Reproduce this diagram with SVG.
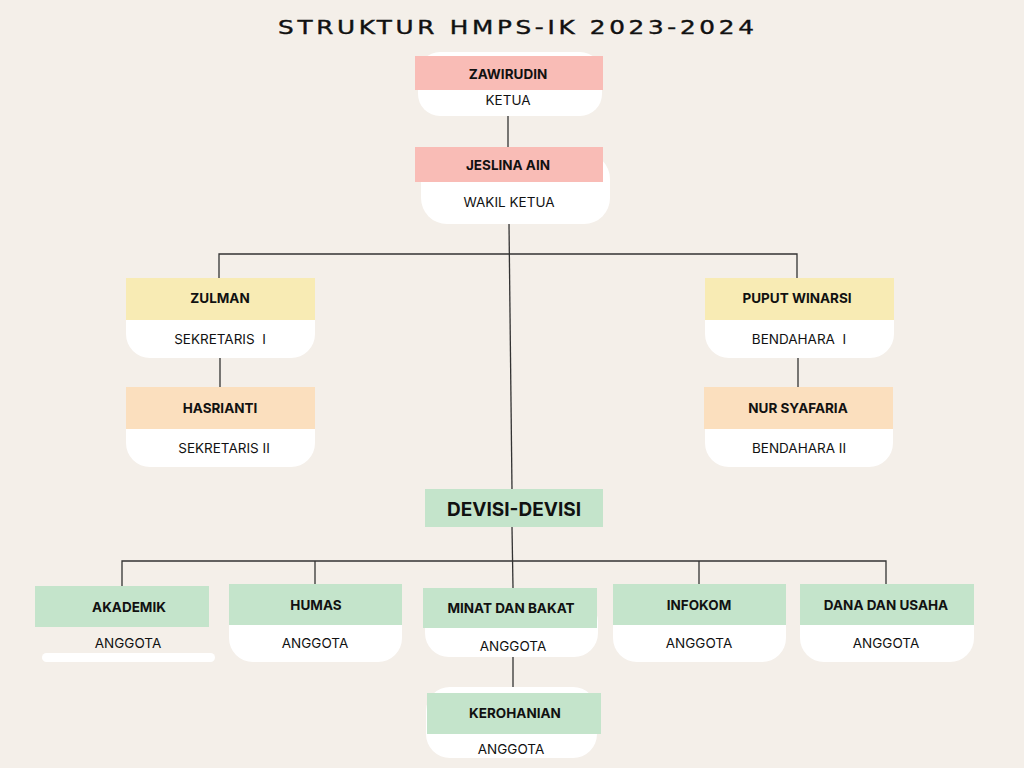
<svg xmlns="http://www.w3.org/2000/svg" width="1024" height="768" viewBox="0 0 1024 768">
<style>
.bg{fill:#f4efe9}
.card{fill:#ffffff}
.pink{fill:#f9bcb6}
.yel{fill:#f8ebb4}
.peach{fill:#fbdfbe}
.green{fill:#c4e4cb}
.name{font-family:Inter,"Noto Sans",sans-serif;font-weight:700;font-size:13.5px;fill:#111;text-anchor:middle}
.role{font-family:Inter,"Noto Sans",sans-serif;font-size:13.5px;fill:#111;text-anchor:middle;white-space:pre}
.title{font-family:"DejaVu Sans",sans-serif;font-size:19px;fill:#111;stroke:#111;stroke-width:0.4;text-anchor:middle}
.conn line,.conn polyline{stroke:#333;stroke-width:1.3;fill:none}
</style>
<rect class="bg" x="0" y="0" width="1024" height="768"/>
<text class="title" transform="scale(1.3,1)" x="396.9" y="34" textLength="366" lengthAdjust="spacing">STRUKTUR HMPS-IK 2023-2024</text>
<g class="conn" id="connectors">
<line x1="508" y1="116" x2="508" y2="148"/>
<line x1="509" y1="224" x2="512" y2="490"/>
<polyline points="219,278 219,254 797,254 797,278"/>
<line x1="220" y1="358" x2="220" y2="387"/>
<line x1="798" y1="358" x2="798" y2="387"/>
<line x1="512" y1="527" x2="513" y2="588"/>
<polyline points="122,586 122,561 886,561 886,584"/>
<line x1="315" y1="561" x2="315" y2="584"/>
<line x1="699" y1="561" x2="699" y2="584"/>
<line x1="513" y1="657" x2="513" y2="688"/>
</g>
<g id="zawirudin">
<rect class="card" x="418" y="52" width="184" height="64" rx="22"/>
<rect class="pink" x="415" y="56" width="188" height="34"/>
<text class="name" x="508" y="79">ZAWIRUDIN</text>
<text class="role" x="508" y="105">KETUA</text>
</g>
<g id="jeslina">
<rect class="card" x="421" y="153" width="189" height="71" rx="26"/>
<rect class="pink" x="415" y="147" width="188" height="35"/>
<text class="name" x="508" y="170">JESLINA AIN</text>
<text class="role" x="509" y="207">WAKIL KETUA</text>
</g>
<g id="zulman">
<rect class="card" x="126" y="290" width="189" height="68" rx="24"/>
<rect class="yel" x="126" y="278" width="189" height="42"/>
<text class="name" x="220" y="303">ZULMAN</text>
<text class="role" x="220" y="344" xml:space="preserve">SEKRETARIS  I</text>
</g>
<g id="hasrianti">
<rect class="card" x="126" y="399" width="189" height="68" rx="24"/>
<rect class="peach" x="126" y="387" width="189" height="42"/>
<text class="name" x="220" y="413">HASRIANTI</text>
<text class="role" x="224" y="453">SEKRETARIS II</text>
</g>
<g id="puput">
<rect class="card" x="705" y="290" width="189" height="68" rx="24"/>
<rect class="yel" x="705" y="278" width="189" height="42"/>
<text class="name" x="797" y="303">PUPUT WINARSI</text>
<text class="role" x="799" y="344" xml:space="preserve">BENDAHARA  I</text>
</g>
<g id="nur">
<rect class="card" x="705" y="399" width="188" height="68" rx="24"/>
<rect class="peach" x="704" y="387" width="189" height="42"/>
<text class="name" x="798" y="413">NUR SYAFARIA</text>
<text class="role" x="799" y="453">BENDAHARA II</text>
</g>
<g id="devisi">
<rect class="green" x="425" y="489" width="178" height="38"/>
<text class="name" x="514" y="516" style="font-size:19px">DEVISI-DEVISI</text>
</g>
<g id="akademik">
<rect class="card" x="42" y="653" width="173" height="9" rx="4.5"/>
<rect class="green" x="35" y="586" width="174" height="41"/>
<text class="name" x="129" y="612">AKADEMIK</text>
<text class="role" x="128" y="648">ANGGOTA</text>
</g>
<g id="humas">
<rect class="card" x="229" y="596" width="173" height="66" rx="24"/>
<rect class="green" x="229" y="584" width="173" height="41"/>
<text class="name" x="316" y="610">HUMAS</text>
<text class="role" x="315" y="648">ANGGOTA</text>
</g>
<g id="minat">
<rect class="card" x="425" y="598" width="173" height="59" rx="24"/>
<rect class="green" x="423" y="588" width="174" height="40"/>
<text class="name" x="511" y="613">MINAT DAN BAKAT</text>
<text class="role" x="513" y="651">ANGGOTA</text>
</g>
<g id="infokom">
<rect class="card" x="613" y="596" width="173" height="66" rx="24"/>
<rect class="green" x="613" y="584" width="173" height="41"/>
<text class="name" x="699" y="610">INFOKOM</text>
<text class="role" x="699" y="648">ANGGOTA</text>
</g>
<g id="dana">
<rect class="card" x="800" y="596" width="174" height="66" rx="24"/>
<rect class="green" x="800" y="584" width="174" height="41"/>
<text class="name" x="886" y="610">DANA DAN USAHA</text>
<text class="role" x="886" y="648">ANGGOTA</text>
</g>
<g id="kerohanian">
<rect class="card" x="426" y="687" width="171" height="71" rx="24"/>
<rect class="green" x="427" y="693" width="174" height="41"/>
<text class="name" x="515" y="718">KEROHANIAN</text>
<text class="role" x="511" y="754">ANGGOTA</text>
</g>
</svg>
